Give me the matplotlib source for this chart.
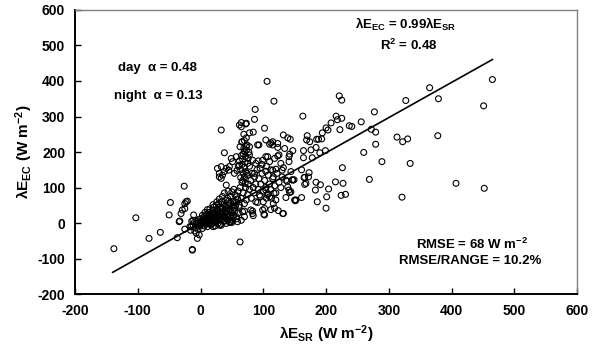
import numpy as np
import matplotlib
matplotlib.use("Agg")
import matplotlib.pyplot as plt

plt.rcParams['font.family'] = ['Liberation Sans', 'DejaVu Sans']
plt.rcParams['font.weight'] = 'bold'
plt.rcParams['axes.unicode_minus'] = False
plt.rcParams['mathtext.fontset'] = 'custom'
plt.rcParams['mathtext.rm'] = 'Liberation Sans:bold'
plt.rcParams['mathtext.bf'] = 'Liberation Sans:bold'
plt.rcParams['mathtext.it'] = 'Liberation Sans:bold'

# points, (lambda E_SR, lambda E_EC) in W m-2
neg = [(-138, -72), (-103, 15), (-82, -43), (-64, -26), (-50, 23), (-48, 58),
       (-26, 104), (-21, 62), (-25, 55), (-29, 37), (-34, 4), (-33, 6),
       (-37, -41), (-13, -76), (-13, -74), (-25, -17), (-17, -10), (-11, 23),
       (-5, -43), (-2, -33), (63, -53), (-12, 8), (-25, 41), (-31, 27),
       (-23, 60), (-16, -20), (-14, 5), (-9, -22), (-7, -28), (-4, -18)]

core = [(-15, -10), (-12, -5), (-10, 2), (-8, -12), (-6, 5), (-5, -3), (-3, 10),
        (-2, -8), (0, 0), (0, 12), (1, -5), (2, 6), (3, -15), (4, 15), (5, 2),
        (6, -8), (7, 20), (8, 10), (9, -2), (10, 5), (10, 25), (11, -10), (12, 15),
        (13, 30), (14, 0), (15, 8), (15, 40), (16, 20), (17, -5), (18, 12), (19, 35),
        (20, 25), (20, 3), (21, 45), (22, 15), (23, -8), (24, 30), (25, 50), (25, 10),
        (26, 20), (27, 38), (28, 0), (29, 55), (30, 15), (30, 30), (31, 45), (32, -3),
        (33, 25), (34, 60), (35, 10), (35, 40), (36, 20), (37, 52), (38, 5), (39, 32),
        (40, 65), (40, 15), (41, 45), (42, 25), (43, 70), (44, 8), (45, 38), (46, 55),
        (47, 18), (48, 75), (49, 30), (50, 45), (50, 2), (52, 62), (53, 22), (55, 80),
        (55, 35), (56, 50), (58, 12), (59, 68), (60, 28),
        (-1, 3), (2, -2), (4, 8), (6, 0), (8, 4), (9, 14), (11, 3), (12, -2), (13, 9),
        (14, 18), (16, 5), (17, 12), (18, -2), (19, 22), (21, 8), (22, 28), (23, 18),
        (24, 4), (26, 12), (27, 25), (28, 35), (29, 8), (31, 20), (32, 32), (33, 14),
        (34, 42), (36, 28), (37, 6), (38, 18), (39, 48), (41, 35), (42, 12), (43, 26),
        (44, 50), (46, 40), (47, 2), (48, 22), (51, 35), (52, 15), (54, 42),
        (51, 8), (48, 4), (59, 4), (65, 8), (46, 4), (41, -1), (33, -6), (30, -6),
        (20, -10), (57, 18), (70, 18), (67, 32),
        (3, 22), (7, 30), (11, 38), (17, 28), (20, 52), (26, 60), (30, 68), (35, 75),
        (38, 85), (44, 90), (45, 62), (50, 88), (53, 95), (57, 58), (61, 45)]

band = [(55, 60), (58, 75), (60, 90), (62, 50), (63, 100), (65, 70), (66, 115),
        (68, 85), (70, 55), (70, 130), (72, 100), (73, 65), (74, 140), (75, 80),
        (76, 110), (78, 95), (78, 160), (80, 120), (81, 70), (82, 140), (84, 100),
        (85, 85), (86, 130), (88, 110), (88, 60), (90, 150), (92, 95), (93, 125),
        (95, 75), (96, 110), (98, 140), (100, 90), (100, 60), (102, 120), (104, 100),
        (106, 80), (108, 135), (110, 110), (112, 95), (115, 125), (118, 105),
        (120, 85), (122, 140), (125, 115), (128, 100), (130, 130), (112, 150),
        (98, 165), (105, 160), (92, 175), (99, 37), (102, 23), (83, 27), (80, 37),
        (110, 74), (117, 84), (120, 65), (104, 93), (94, 79), (112, 38), (118, 42),
        (124, 35), (105, 70), (108, 82)]

streak = [(64, 150), (66, 165), (67, 180), (68, 195), (69, 210), (70, 158),
          (71, 172), (72, 188), (73, 205), (74, 220), (70, 232), (66, 228),
          (75, 168), (76, 182), (72, 145), (68, 140), (77, 200), (65, 190),
          (62, 175), (60, 160), (58, 148), (78, 215), (73, 240), (69, 250),
          (63, 215), (67, 120), (71, 112), (64, 128)]

upper = [(106, 399), (117, 343), (87, 320), (86, 292), (73, 281), (163, 301),
         (102, 267), (78, 254), (84, 256), (132, 248), (139, 240), (143, 236),
         (170, 246), (169, 234), (174, 229), (185, 236), (104, 234), (93, 220),
         (112, 226), (115, 220), (123, 213), (134, 210), (147, 204), (142, 194),
         (164, 204), (176, 206), (73, 215), (78, 192), (107, 187), (123, 189),
         (33, 262), (62, 276), (72, 279), (65, 283), (66, 229), (38, 198), (49, 182),
         (51, 173), (65, 271), (115, 229), (123, 224), (110, 222), (91, 220),
         (70, 201), (141, 187), (57, 187), (46, 159), (62, 163), (83, 177),
         (88, 168), (99, 177), (104, 187), (110, 173), (118, 182), (125, 192),
         (128, 168), (115, 149), (27, 154), (30, 140), (38, 145), (30, 130),
         (33, 159), (45, 149), (54, 140), (41, 154), (35, 135), (33, 126), (41, 107)]

mid = [(151, 63), (161, 72), (168, 112), (166, 129), (173, 142), (144, 88),
       (147, 121), (144, 145), (132, 27), (101, 25), (84, 21), (83, 34), (102, 41),
       (70, 34), (116, 55), (91, 58), (113, 70), (136, 72), (142, 86), (141, 93),
       (150, 65), (166, 109), (172, 130), (165, 128), (138, 118), (146, 122),
       (149, 122), (161, 150), (164, 184), (178, 184), (141, 173), (132, 156),
       (130, 149), (120, 152), (116, 130), (104, 146), (95, 154), (86, 140),
       (75, 135), (131, 27), (136, 121), (139, 102), (152, 65)]

right = [(465, 404), (451, 330), (365, 381), (379, 350), (327, 345), (277, 313),
         (221, 358), (225, 346), (216, 301), (225, 295), (218, 291), (256, 285),
         (237, 274), (241, 272), (208, 282), (200, 268), (203, 262), (194, 254),
         (222, 263), (272, 264), (279, 256), (313, 242), (322, 229), (330, 237),
         (378, 246), (188, 236), (193, 237), (184, 213), (190, 198), (199, 204),
         (260, 199), (279, 222), (289, 173), (334, 168), (226, 156), (269, 123),
         (215, 116), (227, 112), (184, 115), (191, 108), (204, 96), (183, 93),
         (201, 74), (224, 78), (231, 81), (186, 60), (200, 42), (321, 73),
         (407, 112), (452, 98)]

slope = 0.99
line_x = [-140, 465]

pts = np.array(neg + core + band + streak + upper + mid + right, dtype=float)

fig = plt.figure(figsize=(5.95, 3.54), dpi=100)
ax = fig.add_axes([0.126, 0.169, 0.844, 0.803])

ax.scatter(pts[:, 0], pts[:, 1], s=18, facecolors='none', edgecolors='black',
           linewidths=0.8, zorder=3)
lx = np.array(line_x, dtype=float)
ax.plot(lx, slope * lx, color='black', lw=1.2, zorder=4)

ax.set_xlim(-200, 600)
ax.set_ylim(-200, 600)
ax.set_xticks(range(-200, 601, 100))
ax.set_yticks(range(-200, 601, 100))
ax.tick_params(direction='in', length=4, width=1, labelsize=10, pad=7)
for lab in ax.get_xticklabels() + ax.get_yticklabels():
    lab.set_fontweight('bold')

ax.spines['left'].set_linewidth(1.4)
ax.spines['bottom'].set_linewidth(1.4)
ax.spines['top'].set_color('#808080')
ax.spines['right'].set_color('#808080')
ax.spines['top'].set_linewidth(1.0)
ax.spines['right'].set_linewidth(1.0)

ax.set_xlabel(r'λE$_{SR}$ (W m$^{-2}$)', fontsize=11, fontweight='bold', labelpad=4)
ax.set_ylabel(r'λE$_{EC}$ (W m$^{-2}$)', fontsize=11, fontweight='bold', labelpad=2)

fs = 9.5
ax.text(-68, 437, 'day  α = 0.48', ha='center', va='center', fontsize=fs, fontweight='bold')
ax.text(-68, 358, 'night  α = 0.13', ha='center', va='center', fontsize=fs, fontweight='bold')
ax.text(327, 558, r'λE$_{EC}$ = 0.99λE$_{SR}$', ha='center', va='center', fontsize=fs, fontweight='bold')
ax.text(332, 501, r'R$^{2}$ = 0.48', ha='center', va='center', fontsize=fs, fontweight='bold')
ax.text(432, -59, r'RMSE = 68 W m$^{-2}$', ha='center', va='center', fontsize=fs, fontweight='bold')
ax.text(430, -107, 'RMSE/RANGE = 10.2%', ha='center', va='center', fontsize=fs, fontweight='bold')

fig.savefig('out.png', dpi=100)
